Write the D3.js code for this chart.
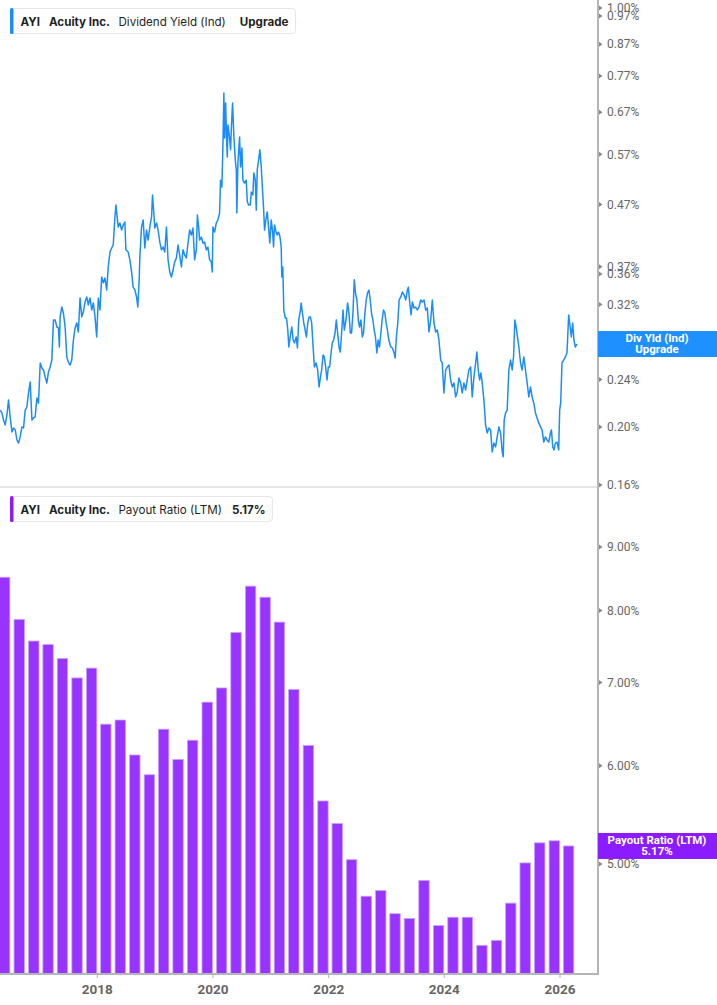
<!DOCTYPE html>
<html>
<head>
<meta charset="utf-8">
<script src="https://cdn.jsdelivr.net/npm/d3@7"></script>
<style>
  body { margin: 0; background: #fff; }
  svg { display: block; }
</style>
</head>
<body>
<div id="chart"></div>
<script>
// DIVIDEND YIELD (IND), % — [decimal year, value]
const divYield = [
  [2016.331,0.2134],[2016.360,0.2110],[2016.388,0.2054],[2016.417,0.2015],[2016.447,0.2094],[2016.474,0.2218],[2016.503,0.2078],[2016.533,0.1962],[2016.560,0.1992],[2016.590,0.1977],
  [2016.619,0.1902],[2016.647,0.1880],[2016.676,0.1925],[2016.705,0.2000],[2016.733,0.1992],[2016.762,0.2134],[2016.791,0.2159],[2016.819,0.2279],[2016.848,0.2377],[2016.878,0.2054],
  [2016.905,0.2070],[2016.934,0.2078],[2016.964,0.2235],[2016.991,0.2193],[2017.021,0.2557],[2017.050,0.2508],[2017.078,0.2489],[2017.107,0.2423],[2017.136,0.2368],[2017.164,0.2470],
  [2017.193,0.2518],[2017.222,0.2586],[2017.250,0.3016],[2017.279,0.3016],[2017.309,0.2936],[2017.336,0.2925],[2017.353,0.2719],[2017.365,0.3052],[2017.395,0.3170],[2017.422,0.3098],
  [2017.452,0.2936],[2017.481,0.2617],[2017.509,0.2566],[2017.538,0.2537],[2017.567,0.2586],[2017.595,0.2793],[2017.624,0.2925],[2017.653,0.2982],[2017.681,0.2880],[2017.710,0.3282],
  [2017.740,0.3052],[2017.767,0.3110],[2017.797,0.3232],[2017.826,0.3295],[2017.853,0.3195],[2017.883,0.3282],[2017.912,0.3134],[2017.940,0.3220],[2017.969,0.3052],[2017.998,0.2825],
  [2018.026,0.3282],[2018.055,0.3134],[2018.084,0.3557],[2018.112,0.3480],[2018.141,0.3543],[2018.171,0.3385],[2018.198,0.3697],[2018.228,0.3916],[2018.257,0.3977],[2018.284,0.4023],
  [2018.314,0.4481],[2018.331,0.4692],[2018.343,0.4567],[2018.371,0.4310],[2018.400,0.4378],[2018.429,0.4260],[2018.457,0.4344],[2018.486,0.4395],[2018.503,0.3950],[2018.543,0.3916],
  [2018.572,0.3800],[2018.602,0.3627],[2018.629,0.3422],[2018.659,0.3385],[2018.688,0.3295],[2018.710,0.3170],[2018.733,0.3520],[2018.745,0.3842],[2018.774,0.4310],[2018.802,0.4430],
  [2018.831,0.3977],[2018.860,0.4260],[2018.888,0.4100],[2018.917,0.4310],[2018.947,0.4481],[2018.964,0.4875],[2018.986,0.4550],[2019.003,0.4293],[2019.033,0.4378],[2019.060,0.4260],
  [2019.090,0.4069],[2019.119,0.3950],[2019.147,0.3992],[2019.176,0.3916],[2019.205,0.4310],[2019.233,0.3800],[2019.262,0.3627],[2019.291,0.3557],[2019.319,0.3655],[2019.348,0.3771],
  [2019.378,0.3829],[2019.405,0.4023],[2019.434,0.3871],[2019.464,0.3697],[2019.491,0.3950],[2019.521,0.3871],[2019.550,0.3829],[2019.578,0.4054],[2019.607,0.4260],[2019.636,0.4181],
  [2019.664,0.4293],[2019.693,0.3800],[2019.722,0.3950],[2019.740,0.4515],[2019.762,0.4310],[2019.779,0.4100],[2019.809,0.4148],[2019.836,0.4054],[2019.865,0.4069],[2019.895,0.3950],
  [2019.922,0.3992],[2019.952,0.3800],[2019.981,0.3771],[2019.998,0.3627],[2020.009,0.4310],[2020.038,0.4228],[2020.067,0.4378],[2020.095,0.4430],[2020.124,0.4550],[2020.141,0.5160],
  [2020.164,0.5027],[2020.181,0.5860],[2020.198,0.7214],[2020.210,0.6070],[2020.228,0.6940],[2020.245,0.6020],[2020.257,0.5640],[2020.267,0.6380],[2020.291,0.6140],[2020.314,0.5800],
  [2020.326,0.6260],[2020.348,0.6940],[2020.371,0.6090],[2020.395,0.5580],[2020.412,0.5370],[2020.422,0.4550],[2020.440,0.5513],[2020.469,0.6090],[2020.486,0.5430],[2020.509,0.5840],
  [2020.526,0.5160],[2020.555,0.5105],[2020.584,0.5160],[2020.602,0.4753],[2020.624,0.4692],[2020.653,0.4692],[2020.671,0.4932],[2020.698,0.4875],[2020.715,0.5305],[2020.740,0.5160],
  [2020.757,0.4600],[2020.774,0.5370],[2020.797,0.5580],[2020.819,0.5800],[2020.843,0.5430],[2020.865,0.4970],[2020.883,0.4636],[2020.900,0.4260],[2020.922,0.4430],[2020.947,0.4567],
  [2020.969,0.4310],[2020.991,0.4054],[2021.015,0.4430],[2021.038,0.4243],[2021.055,0.3992],[2021.072,0.4344],[2021.095,0.4243],[2021.119,0.4181],[2021.141,0.4228],[2021.164,0.4165],
  [2021.188,0.3992],[2021.198,0.3557],[2021.215,0.3697],[2021.233,0.3134],[2021.257,0.3040],[2021.279,0.3040],[2021.302,0.2902],[2021.319,0.2719],[2021.343,0.2825],[2021.371,0.2936],
  [2021.395,0.2793],[2021.417,0.2762],[2021.447,0.2825],[2021.469,0.2708],[2021.491,0.3016],[2021.521,0.3134],[2021.533,0.3220],[2021.555,0.3098],[2021.578,0.2982],[2021.602,0.2902],
  [2021.624,0.2825],[2021.647,0.2982],[2021.671,0.3052],[2021.693,0.3052],[2021.715,0.2982],[2021.740,0.2719],[2021.762,0.2518],[2021.791,0.2557],[2021.819,0.2489],[2021.843,0.2332],
  [2021.865,0.2414],[2021.888,0.2489],[2021.912,0.2637],[2021.934,0.2617],[2021.957,0.2518],[2021.981,0.2395],[2022.003,0.2518],[2022.026,0.2518],[2022.050,0.2657],[2022.072,0.2762],
  [2022.095,0.2793],[2022.119,0.2869],[2022.141,0.3016],[2022.164,0.2869],[2022.188,0.2719],[2022.210,0.2667],[2022.233,0.2869],[2022.257,0.3134],[2022.279,0.2902],[2022.309,0.3016],
  [2022.336,0.3220],[2022.360,0.3098],[2022.383,0.2869],[2022.405,0.2869],[2022.429,0.3098],[2022.452,0.3520],[2022.474,0.3345],[2022.498,0.3257],[2022.521,0.3016],[2022.543,0.2936],
  [2022.567,0.3016],[2022.590,0.2825],[2022.612,0.2869],[2022.636,0.3098],[2022.659,0.3257],[2022.681,0.3345],[2022.705,0.3385],[2022.728,0.3257],[2022.750,0.3098],[2022.774,0.3016],
  [2022.797,0.2902],[2022.819,0.2825],[2022.843,0.2657],[2022.865,0.2793],[2022.888,0.2719],[2022.912,0.2869],[2022.934,0.3016],[2022.957,0.3134],[2022.981,0.3098],[2023.003,0.2982],
  [2023.026,0.2902],[2023.050,0.2793],[2023.084,0.2719],[2023.112,0.2708],[2023.141,0.2657],[2023.159,0.2606],[2023.181,0.2825],[2023.205,0.2982],[2023.228,0.3257],[2023.257,0.3295],
  [2023.284,0.3358],[2023.314,0.3320],[2023.343,0.3257],[2023.371,0.3385],[2023.388,0.3422],[2023.412,0.3220],[2023.434,0.3075],[2023.457,0.3232],[2023.486,0.3158],[2023.515,0.3170],
  [2023.543,0.3134],[2023.572,0.3170],[2023.602,0.3257],[2023.629,0.3232],[2023.659,0.3257],[2023.688,0.3134],[2023.715,0.3158],[2023.745,0.2880],[2023.774,0.3016],[2023.802,0.3257],
  [2023.831,0.2982],[2023.860,0.2880],[2023.888,0.2902],[2023.917,0.2793],[2023.947,0.2586],[2023.974,0.2557],[2024.003,0.2279],[2024.033,0.2489],[2024.060,0.2518],[2024.090,0.2537],
  [2024.119,0.2395],[2024.147,0.2332],[2024.176,0.2368],[2024.205,0.2244],[2024.233,0.2288],[2024.262,0.2414],[2024.291,0.2368],[2024.319,0.2279],[2024.348,0.2368],[2024.378,0.2305],
  [2024.405,0.2395],[2024.434,0.2489],[2024.464,0.2518],[2024.491,0.2244],[2024.521,0.2423],[2024.550,0.2557],[2024.572,0.2667],[2024.595,0.2489],[2024.619,0.2395],[2024.641,0.2461],
  [2024.664,0.2368],[2024.693,0.2218],[2024.722,0.2015],[2024.750,0.1954],[2024.779,0.1992],[2024.809,0.1977],[2024.836,0.1817],[2024.865,0.1880],[2024.895,0.1852],[2024.922,0.1925],
  [2024.952,0.2000],[2024.981,0.1954],[2025.009,0.1817],[2025.026,0.1783],[2025.043,0.2054],[2025.067,0.2110],[2025.095,0.2134],[2025.124,0.2489],[2025.153,0.2586],[2025.181,0.2489],
  [2025.205,0.2617],[2025.228,0.3016],[2025.250,0.2936],[2025.274,0.2825],[2025.297,0.2719],[2025.326,0.2557],[2025.353,0.2489],[2025.383,0.2617],[2025.412,0.2489],[2025.440,0.2368],
  [2025.469,0.2244],[2025.498,0.2332],[2025.526,0.2244],[2025.555,0.2193],[2025.584,0.2110],[2025.612,0.2070],[2025.641,0.2031],[2025.671,0.2000],[2025.698,0.1977],[2025.728,0.1887],
  [2025.757,0.1925],[2025.784,0.1902],[2025.814,0.1887],[2025.843,0.1954],[2025.860,0.1977],[2025.883,0.1852],[2025.905,0.1831],[2025.929,0.1880],[2025.957,0.1887],[2025.986,0.1831],
  [2026.003,0.2134],[2026.021,0.2193],[2026.043,0.2557],[2026.072,0.2586],[2026.102,0.2617],[2026.129,0.2657],[2026.159,0.3075],[2026.176,0.2982],[2026.205,0.2825],[2026.228,0.2982],
  [2026.250,0.2793],[2026.274,0.2719],[2026.302,0.2750]
];

// PAYOUT RATIO (LTM), % — quarterly
const payoutDates = [
  "2016-07-01","2016-10-01","2017-01-01","2017-04-01","2017-07-01","2017-10-01","2018-01-01","2018-04-01",
  "2018-07-01","2018-10-01","2019-01-01","2019-04-01","2019-07-01","2019-10-01","2020-01-01","2020-04-01",
  "2020-07-01","2020-10-01","2021-01-01","2021-04-01","2021-07-01","2021-10-01","2022-01-01","2022-04-01",
  "2022-07-01","2022-10-01","2023-01-01","2023-04-01","2023-07-01","2023-10-01","2024-01-01","2024-04-01",
  "2024-07-01","2024-10-01","2025-01-01","2025-04-01","2025-07-01","2025-10-01","2026-01-01","2026-04-01"
];
const payoutValues = [
  8.51, 7.87, 7.56, 7.51, 7.32, 7.06, 7.19, 6.48,
  6.53, 6.12, 5.90, 6.42, 6.07, 6.29, 6.75, 6.93,
  7.68, 8.37, 8.20, 7.83, 6.91, 6.23, 5.62, 5.39,
  5.04, 4.71, 4.76, 4.56, 4.52, 4.85, 4.46, 4.53,
  4.53, 4.30, 4.34, 4.65, 5.01, 5.20, 5.22, 5.17
];

// TICKS
const yieldTicks = [1.00, 0.97, 0.87, 0.77, 0.67, 0.57, 0.47, 0.37, 0.36, 0.32, 0.28, 0.24, 0.20, 0.16];
const payoutTicks = [9, 8, 7, 6, 5];
const yearTicks = [2018, 2020, 2022, 2024, 2026];

// LABELS
const ticker = "AYI";
const company = "Acuity Inc.";
const yieldName = "Dividend Yield (Ind)";
const yieldTag = "Upgrade";
const payoutName = "Payout Ratio (LTM)";
const payoutTag = "5.17%";

// SIZES & COLORS
const svgWidth = 717;
const svgHeight = 1005;
const axisX = 598;
const topPanel = { top: 0, bottom: 487 };
const bottomPanel = { top: 490, bottom: 974 };
const lineColor = "#1a8cff";
const blueTag = "#1e90ff";
const barColor = "#9933ff";
const purpleTag = "#8a1cff";
const axisColor = "#b5b5b5";
const labelColor = "#666";

const toDate = t => {
  const y = Math.floor(t);
  const start = new Date(y, 0, 1);
  const end = new Date(y + 1, 0, 1);
  return new Date(+start + (t - y) * (end - start));
};

// SCALES
const xScale = d3.scaleTime()
  .domain([new Date(2018, 0, 1), new Date(2026, 0, 1)])
  .range([96.8, 559.5]);

const yTop = d3.scaleLog().domain([0.16, 1.0]).range([485, 8]);
const yBottom = d3.scaleLog().domain([5, 9]).range([864, 547]);

const svg = d3.select("#chart")
  .append("svg")
  .attr("width", svgWidth)
  .attr("height", svgHeight)
  .style("font-family", "Roboto, 'Noto Sans', sans-serif");

// CLIP PATHS
const defs = svg.append("defs");
defs.append("clipPath").attr("id", "clip-top")
  .append("rect").attr("x", 0).attr("y", topPanel.top)
  .attr("width", axisX).attr("height", topPanel.bottom - topPanel.top);
defs.append("clipPath").attr("id", "clip-bottom")
  .append("rect").attr("x", 0).attr("y", bottomPanel.top)
  .attr("width", axisX).attr("height", bottomPanel.bottom - bottomPanel.top);

// PANEL SEPARATOR
svg.append("line")
  .attr("x1", 0).attr("x2", axisX)
  .attr("y1", topPanel.bottom).attr("y2", topPanel.bottom)
  .attr("stroke", "#dcdcdc").attr("stroke-width", 1.5);

// DIVIDEND YIELD LINE
const line = d3.line()
  .x(d => xScale(toDate(d[0])))
  .y(d => yTop(d[1]));

svg.append("path")
  .datum(divYield)
  .attr("clip-path", "url(#clip-top)")
  .attr("fill", "none")
  .attr("stroke", lineColor)
  .attr("stroke-width", 1.5)
  .attr("stroke-linejoin", "round")
  .attr("d", line);

// PAYOUT BARS (right edge on the quarter date)
const payoutData = payoutDates.map((d, i) => ({ date: new Date(d + "T00:00:00"), value: payoutValues[i] }));
const quarterStep = xScale(new Date(2018, 3, 1)) - xScale(new Date(2018, 0, 1));
const barWidth = quarterStep * 0.73;

svg.append("g")
  .attr("clip-path", "url(#clip-bottom)")
  .selectAll("rect")
  .data(payoutData)
  .enter()
  .append("rect")
  .attr("x", d => xScale(d.date) - barWidth)
  .attr("y", d => yBottom(d.value))
  .attr("width", barWidth)
  .attr("height", d => bottomPanel.bottom - yBottom(d.value))
  .attr("fill", barColor)
  .attr("stroke", "#c9a2ff")
  .attr("stroke-width", 0.8);

// RIGHT AXIS LINE
svg.append("line")
  .attr("x1", axisX).attr("x2", axisX)
  .attr("y1", 0).attr("y2", bottomPanel.bottom + 1)
  .attr("stroke", axisColor).attr("stroke-width", 2);

// BOTTOM AXIS
const xAxis = d3.axisBottom(xScale)
  .tickValues(yearTicks.map(y => new Date(y, 0, 1)))
  .tickFormat(d3.timeFormat("%Y"))
  .tickSize(4)
  .tickPadding(6);

const gx = svg.append("g")
  .attr("transform", `translate(0,${bottomPanel.bottom})`)
  .call(xAxis);
gx.select(".domain").remove();
gx.selectAll(".tick line").attr("stroke", axisColor);
gx.selectAll(".tick text")
  .attr("fill", labelColor)
  .style("font-family", "Roboto, sans-serif")
  .style("font-size", "13.5px")
  .style("font-weight", "bold");

svg.append("line")
  .attr("x1", 0).attr("x2", axisX + 1)
  .attr("y1", bottomPanel.bottom).attr("y2", bottomPanel.bottom)
  .attr("stroke", axisColor).attr("stroke-width", 2);

// RIGHT TICKS
const addRightTicks = (ticks, scale, format) => {
  const g = svg.append("g");
  const tick = g.selectAll("g")
    .data(ticks)
    .enter()
    .append("g")
    .attr("transform", d => `translate(${axisX},${scale(d)})`);
  tick.append("path")
    .attr("d", "M1,-2.5L4.5,0L1,2.5Z")
    .attr("fill", "#888");
  tick.append("text")
    .attr("x", 9)
    .attr("dy", "0.35em")
    .attr("fill", labelColor)
    .style("font-size", "12px")
    .text(format);
};
addRightTicks(yieldTicks, yTop, d => d.toFixed(2) + "%");
addRightTicks(payoutTicks, yBottom, d => d.toFixed(2) + "%");

// VALUE TAGS ON THE AXIS
const addValueTag = (yCenter, color, lines) => {
  const g = svg.append("g");
  g.append("rect")
    .attr("x", axisX)
    .attr("y", yCenter - 13)
    .attr("width", svgWidth - axisX)
    .attr("height", 26)
    .attr("fill", color);
  g.selectAll("text")
    .data(lines)
    .enter()
    .append("text")
    .attr("x", axisX + 59)
    .attr("y", (d, i) => yCenter - 2 + i * 11)
    .attr("text-anchor", "middle")
    .attr("fill", "#fff")
    .style("font-size", "11.5px")
    .style("font-weight", "bold")
    .text(d => d);
};
addValueTag(yTop(divYield[divYield.length - 1][1]), blueTag, ["Div Yld (Ind)", "Upgrade"]);
addValueTag(yBottom(payoutValues[payoutValues.length - 1]), purpleTag, [payoutName, payoutTag]);

// LEGENDS (pieces laid out one after another)
const addLegend = (y, color, parts) => {
  const g = svg.append("g").style("font-family", "Inter, 'Noto Sans', sans-serif");
  const box = g.append("rect")
    .attr("x", 10.5).attr("y", y + 0.5)
    .attr("height", 25)
    .attr("rx", 3)
    .attr("fill", "#fff")
    .attr("stroke", "#e6e6e6");
  g.append("rect")
    .attr("x", 10).attr("y", y)
    .attr("width", 3.5).attr("height", 26)
    .attr("rx", 1.5)
    .attr("fill", color);
  let x = 20.5;
  parts.forEach(p => {
    const t = g.append("text")
      .attr("x", x)
      .attr("y", y + 17.5)
      .attr("fill", "#1f1f1f")
      .style("font-size", "11.6px")
      .style("font-weight", p.bold ? 700 : 400)
      .text(p.text);
    x += t.node().getComputedTextLength() + p.gap;
  });
  box.attr("width", x - 10.5);
};

addLegend(8, lineColor, [
  { text: ticker, bold: true, gap: 9 },
  { text: company, bold: true, gap: 8.5 },
  { text: yieldName, bold: false, gap: 14 },
  { text: yieldTag, bold: true, gap: 7 }
]);
addLegend(496, purpleTag, [
  { text: ticker, bold: true, gap: 9 },
  { text: company, bold: true, gap: 8.5 },
  { text: payoutName, bold: false, gap: 10 },
  { text: payoutTag, bold: true, gap: 7 }
]);
</script>
</body>
</html>
